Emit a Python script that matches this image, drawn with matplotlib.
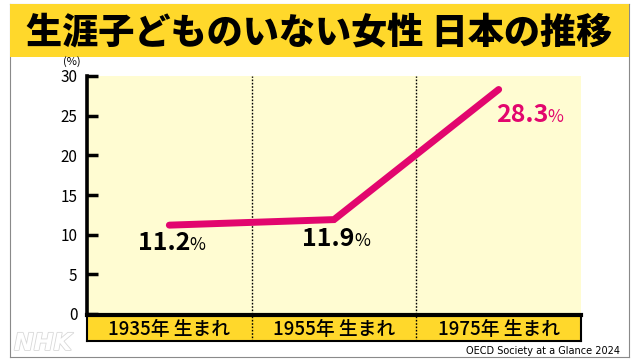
import matplotlib
matplotlib.use("Agg")
import matplotlib.pyplot as plt
import matplotlib.patheffects as pe

plt.rcParams['font.family'] = ['Noto Sans CJK JP', 'DejaVu Sans']

# data
title = "生涯子どものいない女性 日本の推移"
cohorts = ["1935年 生まれ", "1955年 生まれ", "1975年 生まれ"]
share = [11.2, 11.9, 28.3]
yticks = [0, 5, 10, 15, 20, 25, 30]
source = "OECD Society at a Glance 2024"

GOLD = "#FFD82B"
CREAM = "#FFFCD2"
PINK = "#E2066E"

W, H = 640, 360
fig = plt.figure(figsize=(6.4, 3.6), dpi=100)
fig.patch.set_facecolor("white")


def box(x0, y0, x1, y1):
    # pixel box (top-left origin) -> figure fraction rect
    return [x0 / W, 1 - y1 / H, (x1 - x0) / W, (y1 - y0) / H]


# outer frame + title bar
frame = fig.add_axes(box(10, 4, 629, 357))
frame.set_xticks([]); frame.set_yticks([])
for s in frame.spines.values():
    s.set_color("#8a8a8a"); s.set_linewidth(0.8)
frame.set_facecolor("white")

tbar = fig.add_axes(box(10, 4, 629, 57))
tbar.set_facecolor(GOLD)
tbar.set_xticks([]); tbar.set_yticks([])
for s in tbar.spines.values():
    s.set_visible(False)
tbar.text(0.5, 0.47, title, ha="center", va="center", fontsize=26,
          fontweight="black", color="black", transform=tbar.transAxes)

# main plot
ax = fig.add_axes(box(87, 76, 581, 314))
ax.set_facecolor(CREAM)
x = [i + 0.5 for i in range(len(cohorts))]
ax.plot(x, share, color=PINK, lw=5, solid_capstyle="round",
        solid_joinstyle="miter", zorder=3)
ax.set_xlim(0, 3)
ax.set_ylim(0, 30)
ax.set_yticks(yticks)
ax.set_xticks([])
ax.tick_params(axis="y", direction="in", length=8, width=2.5, pad=7,
               labelsize=11, colors="black")
for side in ["top", "right", "bottom"]:
    ax.spines[side].set_visible(False)
ax.spines["left"].set_linewidth(2.6)
ax.text(-0.09, 31.1, "(%)", fontsize=8, ha="center", va="bottom",
        transform=ax.transData, clip_on=False)

for xv in [1, 2]:
    ax.axvline(xv, color="black", lw=1, ls=(0, (1.2, 1.2)), zorder=2)

# value labels (x = right edge of the number)
label_pos = [(0.625, 9.0, "black"), (1.625, 9.4, "black"), (2.8, 25.1, PINK)]
for (lx, ly, c), v in zip(label_pos, share):
    t = ax.text(lx, ly, f"{v:.1f}", fontsize=18, fontweight="bold",
                color=c, ha="right", va="center")
    ax.annotate("%", xy=(1, 0.42), xycoords=t, xytext=(-0.5, 0),
                textcoords="offset points", fontsize=12.5, color=c,
                ha="left", va="center")

# category band
band = fig.add_axes(box(87, 315, 581, 341))
band.set_facecolor(GOLD)
band.set_xlim(0, 3); band.set_ylim(0, 1)
band.set_xticks([]); band.set_yticks([])
for s in band.spines.values():
    s.set_linewidth(1.5)
band.spines["top"].set_linewidth(3)
for xv in [1, 2]:
    band.axvline(xv, color="black", lw=1, ls=(0, (1.2, 1.2)))
for xi, name in zip(x, cohorts):
    band.text(xi, 0.45, name, ha="center", va="center", fontsize=13.5,
              fontweight="medium")

# source + watermark
fig.text(620 / W, 1 - 351 / H, source, fontsize=7, ha="right", va="center",
         fontfamily="Liberation Sans Narrow")
fig.text(14 / W, 1 - 343 / H, "NHK", fontsize=17, fontweight="bold",
         fontstyle="italic", color="white", ha="left", va="center",
         fontfamily="DejaVu Sans",
         path_effects=[pe.withStroke(linewidth=1.2, foreground="#d8d8d8")])

fig.savefig("out.png", dpi=100)
